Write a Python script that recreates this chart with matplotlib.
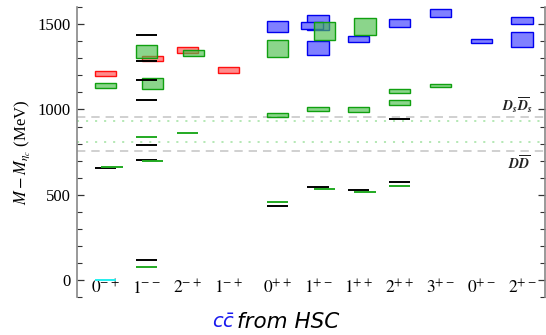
import matplotlib
matplotlib.use("Agg")
import matplotlib.pyplot as plt
from matplotlib.patches import Rectangle
from matplotlib.ticker import MultipleLocator

plt.rcParams['mathtext.fontset'] = 'stix'
plt.rcParams['font.family'] = ['Liberation Serif', 'DejaVu Serif']
plt.rcParams['lines.scale_dashes'] = False

# ---- data ----
categories = [r'$0^{-+}$', r'$1^{--}$', r'$2^{-+}$', r'$1^{-+}$', r'$0^{++}$', r'$1^{+-}$',
              r'$1^{++}$', r'$2^{++}$', r'$3^{+-}$', r'$0^{+-}$', r'$2^{+-}$']

# boxes: category index, column (-1/0/+1), low, high (MeV)
red_cat = [0, 1, 2, 3]
red_col = [0, 1, 0, 0]
red_lo = [1195, 1284, 1330, 1214]
red_hi = [1226, 1315, 1367, 1249]

green_cat = [0, 1, 1, 2, 4, 4, 5, 5, 6, 6, 7, 7, 8]
green_col = [0, 0, 1, 1, 0, 0, 1, 0, 1, 0, 0, 0, 0]
green_lo = [1126, 1300, 1122, 1314, 1310, 956, 1408, 993, 1435, 987, 1099, 1025, 1130]
green_hi = [1157, 1376, 1183, 1351, 1406, 981, 1511, 1016, 1535, 1013, 1120, 1056, 1148]

blue_cat = [4, 5, 5, 5, 6, 7, 8, 9, 10, 10]
blue_col = [0, 0, -1, 0, 0, 0, 0, 0, 0, 0]
blue_lo = [1453, 1468, 1470, 1318, 1396, 1482, 1541, 1388, 1503, 1369]
blue_hi = [1519, 1552, 1511, 1400, 1431, 1529, 1588, 1412, 1545, 1453]

# lines: category index, column, value
black_cat = [0, 1, 1, 1, 1, 1, 1, 1, 4, 5, 6, 7, 7]
black_val = [655, 1439, 1283, 1171, 1058, 792, 704, 115, 432, 544, 528, 946, 577]

gline_cat = [0, 1, 1, 1, 2, 4, 5, 6, 7]
gline_col = [1, 0, 1, 0, 0, 0, 1, 1, 0]
gline_val = [663, 840, 696, 78, 860, 459, 534, 518, 553]

cyan_cat = [0]
cyan_val = [0]

thresh_grey = [954, 757]
thresh_grey_labels = [r'$\mathbfit{D_s\overline{D}_s}$', r'$\mathbfit{D\overline{D}}$']
thresh_green = [934, 809]

# ---- layout ----
W, H = 546, 335
fig = plt.figure(figsize=(W / 100, H / 100), dpi=100)
ax = fig.add_axes([77.3 / W, (H - 297) / H, (545.3 - 77.3) / W, (297 - 6.7) / H])

def xpos(i):
    return 1 + i + (0.2 if i >= 4 else 0.0)

bw = 0.52
off = 0.15

def draw_boxes(cats, cols, lo, hi, face, edge, z):
    for c, k, a, b in zip(cats, cols, lo, hi):
        x = xpos(c) + k * off - bw / 2
        ax.add_patch(Rectangle((x, a), bw, b - a, facecolor=face, edgecolor=edge,
                               lw=1.0, zorder=z))

def draw_lines(cats, cols, vals, color, z, lw=1.4):
    for c, k, v in zip(cats, cols, vals):
        x = xpos(c) + k * off
        ax.hlines(v, x - bw / 2, x + bw / 2, color=color, lw=lw, zorder=z)

xmin, xmax = 0.301, 11.77
for v in thresh_grey:
    ax.axhline(v, color='#c8c8c8', lw=1.2, dashes=(6.0, 4.3), zorder=1)
for v in thresh_green:
    ax.axhline(v, color='#a8e4a8', lw=1.2, dashes=(1.5, 5.0), zorder=1)

draw_boxes(blue_cat, blue_col, blue_lo, blue_hi, (0.5, 0.5, 1.0), '#0000ee', 3)
draw_boxes(red_cat, red_col, red_lo, red_hi, (1.0, 0.5, 0.5, 0.9), '#ff1010', 4)
draw_boxes(green_cat, green_col, green_lo, green_hi, (0.3, 0.75, 0.3, 0.65), '#10a010', 5)

draw_lines(black_cat, [0] * len(black_cat), black_val, 'black', 6)
draw_lines(gline_cat, gline_col, gline_val, '#22aa22', 6)
draw_lines(cyan_cat, [0] * len(cyan_cat), cyan_val, '#22eeee', 6)

ax.text(11.47, 968, thresh_grey_labels[0], ha='right', va='bottom', fontsize=10, color='#222222')
ax.text(11.40, 739, thresh_grey_labels[1], ha='right', va='top', fontsize=10, color='#222222')

for i, lab in enumerate(categories):
    ax.text(xpos(i), -100, lab, ha='center', va='bottom', fontsize=12.5)

ax.set_xlim(xmin, xmax)
ax.set_ylim(-100, 1603)
ax.set_xticks([])
ax.yaxis.set_major_locator(MultipleLocator(500))
ax.yaxis.set_minor_locator(MultipleLocator(100))
ax.tick_params(axis='y', which='both', direction='in', left=True, right=True,
               labelleft=True, labelright=False, color='#333333', labelsize=12, pad=5)
ax.tick_params(axis='y', which='major', length=5, width=0.9)
ax.tick_params(axis='y', which='minor', length=3.5, width=0.8)
for s in ['top', 'bottom']:
    ax.spines[s].set_visible(False)
for s in ['left', 'right']:
    ax.spines[s].set_color('#888888')
    ax.spines[s].set_linewidth(1.2)

ax.set_ylabel(r'$M-M_{\eta_c}$ (MeV)', fontsize=12, labelpad=4)

fig.text(211.7 / W, 0.021, r'$c\bar{c}$', color='#1a1aee', fontsize=14,
         math_fontfamily='dejavusans', ha='left', va='baseline')
fig.text(237 / W, 0.021, 'from HSC', fontsize=15.5, family='DejaVu Sans', style='italic',
         ha='left', va='baseline')

fig.savefig('out.png', dpi=100)
